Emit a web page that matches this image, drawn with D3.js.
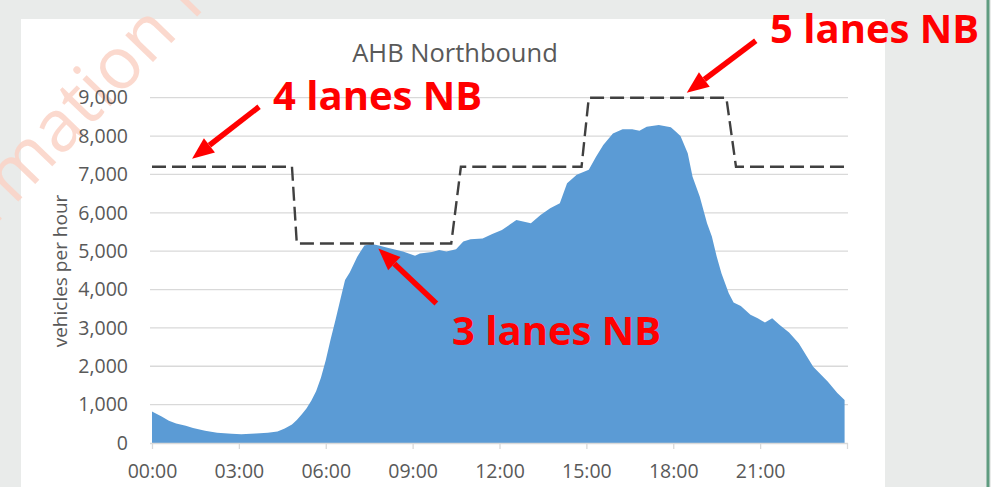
<!DOCTYPE html>
<html>
<head>
<meta charset="utf-8">
<script src="https://cdn.jsdelivr.net/npm/d3@7"></script>
<style>
  html, body { margin: 0; padding: 0; background: #e9ebea; }
  svg { display: block; }
</style>
</head>
<body>
<svg id="chart" width="991" height="487"></svg>
<script>
// Northbound traffic flow over the day (vehicles per hour)
const times = ["00:00","00:20","00:35","00:50","01:10","01:25","01:50","02:15","02:45","03:05",
  "03:35","04:00","04:20","04:35","04:50","05:00","05:10","05:20","05:30","05:40",
  "05:50","06:00","06:10","06:20","06:30","06:40","06:50","07:05","07:20","07:35",
  "07:50","08:10","08:40","09:05","09:15","09:40","09:55","10:10","10:30","10:45",
  "11:00","11:25","11:45","12:05","12:35","13:05","13:25","13:45","14:05","14:20",
  "14:40","15:05","15:20","15:35","15:55","16:15","16:35","16:50","17:05","17:30",
  "17:55","18:05","18:15","18:30","18:40","18:55","19:10","19:20","19:30","19:40",
  "19:55","20:05","20:20","20:40","20:55","21:10","21:25","21:40","22:00","22:20",
  "22:50","23:20","23:40","23:55"];
const vehicles = [820,690,580,510,450,390,320,270,240,225,
  250,270,300,380,480,600,740,900,1100,1350,
  1700,2160,2700,3200,3730,4250,4450,4850,5150,5190,
  5150,5080,4990,4880,4940,4980,5030,4990,5050,5250,
  5310,5330,5450,5550,5810,5730,5940,6120,6250,6770,
  6990,7120,7460,7770,8070,8180,8180,8140,8240,8290,
  8230,8120,8000,7550,6940,6420,5730,5380,4860,4420,
  3900,3660,3570,3340,3250,3140,3250,3080,2880,2600,
  1990,1600,1300,1120];

// Lane capacity schedule (dashed step line)
const capacityTimes = ["00:00","04:50","05:00","10:20","10:40","14:50","15:05","19:50","20:10","23:55"];
const capacityValues = [7200,7200,5200,5200,7200,7200,9000,9000,7200,7200];

// Axis ticks
const yTicks = [0,1000,2000,3000,4000,5000,6000,7000,8000,9000];
const xTickTimes = ["00:00","03:00","06:00","09:00","12:00","15:00","18:00","21:00","24:00"];
const xTickLabels = ["00:00","03:00","06:00","09:00","12:00","15:00","18:00","21:00",""];

// Callouts: label text and the point of the capacity line each arrow points to
const calloutLabels = ["4 lanes NB","5 lanes NB","3 lanes NB"];
const calloutTimes = ["01:23","18:28","07:49"];
const calloutValues = [7200,9000,5200];

const toMin = s => { const [h, m] = s.split(":").map(Number); return h * 60 + m; };

const svg = d3.select("#chart");
const W = 991, H = 487;

// page background and white chart panel
svg.append("rect").attr("width", W).attr("height", H).attr("fill", "#e9ebea");
svg.append("rect").attr("x", 21).attr("y", 19).attr("width", 864).attr("height", H - 19).attr("fill", "#ffffff");
svg.append("rect").attr("x", 986.5).attr("y", 0).attr("width", 3).attr("height", H).attr("fill", "#5f9c80");

// faint watermark running off the top-left corner
svg.append("text")
  .attr("transform", "translate(-98,322) rotate(-46)")
  .attr("font-family", "'Open Sans', sans-serif")
  .attr("font-size", 72)
  .attr("fill", "#fbd3c6")
  .attr("opacity", 0.85)
  .text("Information Purposes Only");

const x = d3.scaleLinear().domain([0, 1440]).range([152, 847]);
const y = d3.scaleLinear().domain([0, 9000]).range([443, 97.7]);

// horizontal gridlines
svg.append("g")
  .selectAll("line")
  .data(yTicks.filter(v => v > 0))
  .join("line")
  .attr("x1", x(0) - 2).attr("x2", x(1440) + 1)
  .attr("y1", d => y(d)).attr("y2", d => y(d))
  .attr("stroke", "#d9d9d9").attr("stroke-width", 1.3);

// y axis labels
const yAxis = svg.append("g")
  .attr("transform", `translate(${x(0) - 2},0)`)
  .call(d3.axisLeft(y).tickValues(yTicks).tickFormat(d3.format(",")).tickSize(0).tickPadding(22));
yAxis.select(".domain").remove();
yAxis.selectAll("text")
  .attr("font-family", "'Open Sans', sans-serif")
  .attr("font-size", 19.5)
  .attr("fill", "#595959");

// area series
const series = times.map((t, i) => ({ t: toMin(t), v: vehicles[i] }));
svg.append("path")
  .datum(series)
  .attr("fill", "#5b9bd5")
  .attr("d", d3.area().x(d => x(d.t)).y0(y(0)).y1(d => y(d.v)));

// x axis
const xAxis = svg.append("g")
  .attr("transform", `translate(0,${y(0)})`)
  .call(d3.axisBottom(x)
    .tickValues(xTickTimes.map(toMin))
    .tickFormat((d, i) => xTickLabels[i])
    .tickSizeOuter(0).tickSizeInner(6).tickPadding(15));
xAxis.select(".domain").attr("stroke", "#d9d9d9").attr("stroke-width", 1.3)
  .attr("d", `M${x(0) - 2},0.5H${x(1440) + 1}`);
xAxis.selectAll(".tick line").attr("stroke", "#d9d9d9").attr("stroke-width", 1.3);
xAxis.selectAll("text")
  .attr("font-family", "'Open Sans', sans-serif")
  .attr("font-size", 19.5)
  .attr("fill", "#595959");

// capacity dashed line
const capacity = capacityTimes.map((t, i) => ({ t: toMin(t), v: capacityValues[i] }));
svg.append("path")
  .datum(capacity)
  .attr("fill", "none")
  .attr("stroke", "#404040")
  .attr("stroke-width", 2.4)
  .attr("stroke-dasharray", "14,6")
  .attr("d", d3.line().x(d => x(d.t)).y(d => y(d.v)));

// y axis title
svg.append("text")
  .attr("transform", "translate(67,271) rotate(-90)")
  .attr("text-anchor", "middle")
  .attr("font-family", "'Open Sans', sans-serif")
  .attr("font-size", 19)
  .attr("fill", "#595959")
  .text("vehicles per hour");

// chart title
svg.append("text")
  .attr("x", 455).attr("y", 62)
  .attr("text-anchor", "middle")
  .attr("font-family", "'Open Sans', sans-serif")
  .attr("font-size", 25.5)
  .attr("fill", "#595959")
  .text("AHB Northbound");

// red callouts
const tipOffset = [[0, -8], [0, -5], [0, 5]];
const tailOffset = [[67, -52], [69, -52], [58, 55]];
const labelPos = [[273, 110], [770, 43], [452, 345]];
calloutLabels.forEach((label, i) => {
  const tx = x(toMin(calloutTimes[i])) + tipOffset[i][0];
  const ty = y(calloutValues[i]) + tipOffset[i][1];
  const sx = tx + tailOffset[i][0], sy = ty + tailOffset[i][1];
  const ang = Math.atan2(sy - ty, sx - tx);
  const headLen = 22, headHalf = 9;
  const bx = tx + Math.cos(ang) * headLen, by = ty + Math.sin(ang) * headLen;
  svg.append("line")
    .attr("x1", sx).attr("y1", sy).attr("x2", bx).attr("y2", by)
    .attr("stroke", "#ff0000").attr("stroke-width", 5.5);
  const px = -Math.sin(ang) * headHalf, py = Math.cos(ang) * headHalf;
  svg.append("path")
    .attr("d", `M${tx},${ty}L${bx + px},${by + py}L${bx - px},${by - py}Z`)
    .attr("fill", "#ff0000");
  svg.append("text")
    .attr("x", labelPos[i][0]).attr("y", labelPos[i][1])
    .attr("font-family", "'Open Sans', sans-serif")
    .attr("font-weight", "bold")
    .attr("font-size", 40)
    .attr("fill", "#ff0000")
    .text(label);
});
</script>
</body>
</html>
